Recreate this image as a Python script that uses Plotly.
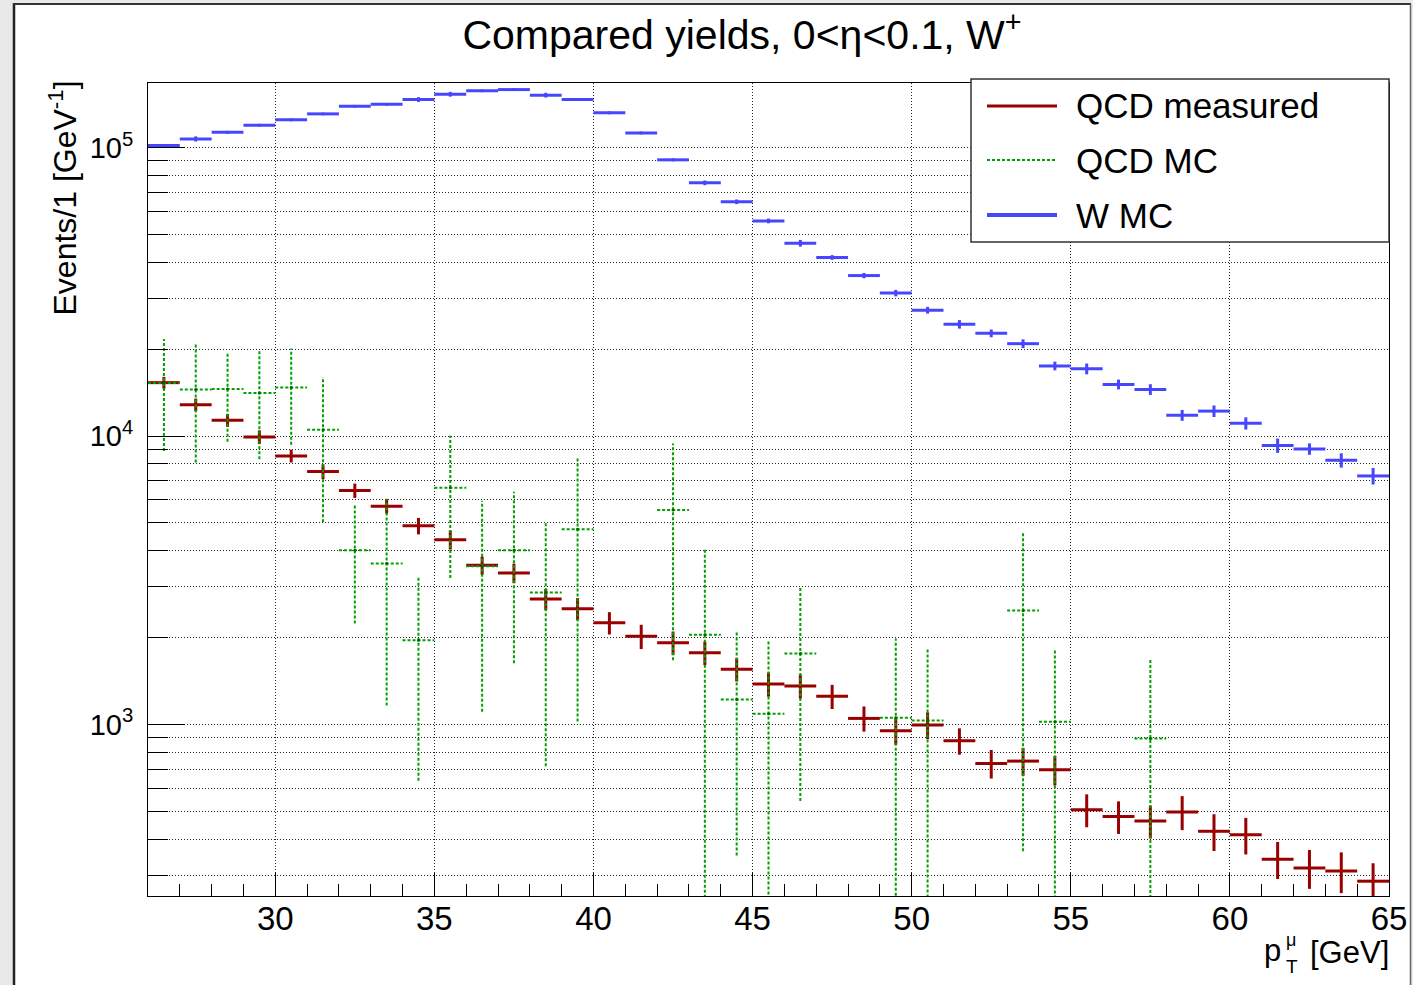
import plotly.graph_objects as go

# ---------------- data ----------------
bin_edges = [26, 27, 28, 29, 30, 31, 32, 33, 34, 35, 36, 37, 38, 39, 40,
             41, 42, 43, 44, 45, 46, 47, 48, 49, 50, 51, 52, 53, 54, 55,
             56, 57, 58, 59, 60, 61, 62, 63, 64, 65]

w_mc = [101700, 107200, 113000, 119600, 124800, 130900, 139100, 141300, 146800, 153100,
        157300, 158900, 152000, 146800, 132000, 112400, 90700, 75500, 64900, 55700,
        46600, 41600, 36000, 31300, 27300, 24400, 22700, 20900, 17500, 17100,
        15100, 14500, 11800, 12200, 11070, 9270, 9020, 8240, 7270]
w_mc_err = [1200, 2200, 1300, 1300, 1400, 1400, 1500, 1500, 2800, 2900,
            1700, 1700, 2900, 1600, 1500, 1300, 1100, 1400, 1200, 1050,
            1250, 780, 770, 810, 740, 830, 700, 730, 610, 740,
            590, 620, 510, 560, 540, 530, 410, 470, 480]

qcd_meas = [15310, 12840, 11330, 9920, 8530, 7530, 6470, 5710, 4880, 4370,
            3560, 3350, 2720, 2520, 2250, 2020, 1919, 1771, 1552, 1380,
            1359, 1251, 1049, 950, 995, 877, 732, 746, 696, 506,
            479, 462, 497, 426, 414, 341, 318, 310, 286]
qcd_meas_err = [720, 640, 580, 540, 435, 445, 370, 330, 320, 330,
                260, 260, 230, 220, 200, 195, 180, 165, 143, 132,
                130, 120, 105, 100, 106, 92, 83, 83, 82, 66,
                62, 60, 67, 62, 60, 50, 49, 50, 44]

qcd_mc = [15280, 14500, 14560, 14100, 14720, 10520, 4018, 3614, 1958, 6620,
          3537, 4018, 2866, 4754, None, None, 5540, 2045, 1221, 1088,
          1762, None, None, 1054, 1032, None, None, 2483, 1021, None,
          None, 894, None, None, None, None, None, None, None]
qcd_mc_err = [6400, 6400, 5000, 5800, 5400, 5500, 1780, 2450, 1320, 3400,
              2430, 2390, 2150, 3730, None, None, 3870, 2000, 870, 860,
              1220, None, None, 930, 800, None, None, 2120, 800, None,
              None, 790, None, None, None, None, None, None, None]

x_major_ticks = [30, 35, 40, 45, 50, 55, 60, 65]
x_minor_ticks = [27, 28, 29, 31, 32, 33, 34, 36, 37, 38, 39, 41, 42, 43, 44, 46, 47, 48, 49,
                 51, 52, 53, 54, 56, 57, 58, 59, 61, 62, 63, 64]
y_major_ticks = [1000, 10000, 100000]
y_major_text = ["10<sup>3</sup>", "10<sup>4</sup>", "10<sup>5</sup>"]
y_minor_ticks = [300, 400, 500, 600, 700, 800, 900,
                 2000, 3000, 4000, 5000, 6000, 7000, 8000, 9000,
                 20000, 30000, 40000, 50000, 60000, 70000, 80000, 90000]

series_names = ["QCD measured", "QCD MC", "W MC"]
c_red = "#990000"
c_green = "#00a000"
c_blue = "#4646ff"

# ---------------- geometry helpers ----------------
W, H = 1413, 985
L, R, T, B = 148, 1389, 83, 896


def fx(px):
    return (px - L) / (R - L)


def fy(py):
    return (B - py) / (B - T)


def cross_segments(edges, vals, errs, floor=1.0):
    xs, ys = [], []
    for i, (v, e) in enumerate(zip(vals, errs)):
        if v is None:
            continue
        lo, hi = edges[i], edges[i + 1]
        c = 0.5 * (lo + hi)
        xs += [lo, hi, None, c, c, None]
        ys += [v, v, None, max(v - e, floor), v + e, None]
    return xs, ys


fig = go.Figure()

xr, yr = cross_segments(bin_edges, qcd_meas, qcd_meas_err)
fig.add_trace(go.Scatter(x=xr, y=yr, mode="lines", name=series_names[0],
                         line=dict(color=c_red, width=3), showlegend=False,
                         hoverinfo="skip"))

xb, yb = cross_segments(bin_edges, w_mc, w_mc_err)
fig.add_trace(go.Scatter(x=xb, y=yb, mode="lines", name=series_names[2],
                         line=dict(color=c_blue, width=3), showlegend=False,
                         hoverinfo="skip"))

xg, yg = cross_segments(bin_edges, qcd_mc, qcd_mc_err)
fig.add_trace(go.Scatter(x=xg, y=yg, mode="lines", name=series_names[1],
                         line=dict(color=c_green, width=2, dash="3px,2px"),
                         showlegend=False, hoverinfo="skip"))
gx = [0.5 * (bin_edges[i] + bin_edges[i + 1]) for i, v in enumerate(qcd_mc) if v is not None]
gy = [v for v in qcd_mc if v is not None]
fig.add_trace(go.Scatter(x=gx, y=gy, mode="markers", showlegend=False,
                         marker=dict(color="#006600", size=3), hoverinfo="skip"))

# ---------------- canvas decorations ----------------
shapes = [
    dict(type="rect", xref="paper", yref="paper", x0=fx(-5), x1=fx(13), y0=fy(990), y1=fy(-5),
         fillcolor="#e9e9e9", line=dict(width=0), layer="below"),
    dict(type="rect", xref="paper", yref="paper", x0=fx(1411), x1=fx(1420), y0=fy(990), y1=fy(-5),
         fillcolor="#e9e9e9", line=dict(width=0), layer="below"),
    dict(type="rect", xref="paper", yref="paper", x0=fx(-5), x1=fx(1420), y0=fy(3), y1=fy(-5),
         fillcolor="#e9e9e9", line=dict(width=0), layer="below"),
    dict(type="line", xref="paper", yref="paper", x0=fx(14), x1=fx(14), y0=fy(990), y1=fy(3),
         line=dict(color="#222222", width=2.5)),
    dict(type="line", xref="paper", yref="paper", x0=fx(13), x1=fx(1411), y0=fy(4), y1=fy(4),
         line=dict(color="#333333", width=2)),
    dict(type="line", xref="paper", yref="paper", x0=fx(1410.5), x1=fx(1410.5), y0=fy(990), y1=fy(4),
         line=dict(color="#666666", width=1.5)),
    dict(type="rect", xref="paper", yref="paper", x0=fx(971), x1=fx(1389), y0=fy(242), y1=fy(79),
         fillcolor="white", line=dict(color="#333333", width=1.5), layer="above"),
]

font_fam = "Liberation Sans, Arial, sans-serif"
legend_rows = [106, 160, 215]
legend_styles = [dict(color=c_red, width=3),
                 dict(color=c_green, width=2, dash="3px,2px"),
                 dict(color=c_blue, width=4)]
annotations = []
for name, row, st in zip(series_names, legend_rows, legend_styles):
    shapes.append(dict(type="line", xref="paper", yref="paper", x0=fx(987), x1=fx(1057),
                       y0=fy(row), y1=fy(row), line=st, layer="above"))
    annotations.append(dict(text=name, xref="paper", yref="paper", x=fx(1074), y=fy(row),
                            xanchor="left", yanchor="middle", showarrow=False,
                            font=dict(family=font_fam, size=35, color="black")))

annotations += [
    dict(text="[GeV]", xref="paper", yref="paper", x=fx(1391), y=fy(952),
         xanchor="right", yanchor="middle", showarrow=False,
         font=dict(family=font_fam, size=31, color="black")),
    dict(text="p", xref="paper", yref="paper", x=fx(1283), y=fy(950),
         xanchor="right", yanchor="middle", showarrow=False,
         font=dict(family=font_fam, size=31, color="black")),
    dict(text="μ", xref="paper", yref="paper", x=fx(1284), y=fy(940),
         xanchor="left", yanchor="middle", showarrow=False,
         font=dict(family=font_fam, size=18, color="black")),
    dict(text="T", xref="paper", yref="paper", x=fx(1284), y=fy(967),
         xanchor="left", yanchor="middle", showarrow=False,
         font=dict(family=font_fam, size=19, color="black")),
    dict(text="Events/1 [GeV<sup>-1</sup>]", xref="paper", yref="paper", x=fx(62), y=fy(79),
         xanchor="center", yanchor="top", textangle=-90, showarrow=False,
         font=dict(family=font_fam, size=32, color="black")),
]

fig.update_layout(
    width=W, height=H,
    margin=dict(l=L, r=W - R, t=T, b=H - B, pad=0, autoexpand=False),
    paper_bgcolor="white", plot_bgcolor="white",
    showlegend=False,
    title=dict(text="Compared yields, 0<η<0.1, W<sup>+</sup>", x=fx(742), xref="paper",
               xanchor="center", y=1 - 35 / H, yref="container", yanchor="middle",
               font=dict(family=font_fam, size=41, color="black")),
    shapes=shapes,
    annotations=annotations,
    font=dict(family=font_fam, color="black"),
)

grid_dash = "1px,2px"
fig.update_xaxes(
    range=[26, 65], tickmode="array", tickvals=x_major_ticks, automargin=False,
    ticks="inside", ticklen=23, tickwidth=1, tickcolor="black",
    tickfont=dict(size=33, family=font_fam, color="black"),
    ticklabelstandoff=-7,
    showgrid=True, gridcolor="#222222", griddash=grid_dash, gridwidth=1,
    minor=dict(tickmode="array", tickvals=x_minor_ticks, ticks="inside", ticklen=12,
               tickcolor="black", tickwidth=1, showgrid=False),
    showline=True, linecolor="black", linewidth=1, mirror=True, zeroline=False,
)

fig.update_yaxes(
    type="log", range=[2.405, 5.224], tickmode="array", tickvals=y_major_ticks,
    ticktext=y_major_text, automargin=False,
    ticks="inside", ticklen=37, tickwidth=1, tickcolor="black",
    tickfont=dict(size=29, family=font_fam, color="black"),
    ticklabelstandoff=8,
    showgrid=True, gridcolor="#222222", griddash=grid_dash, gridwidth=1,
    minor=dict(tickmode="array", tickvals=y_minor_ticks, ticks="inside", ticklen=20,
               tickcolor="black", tickwidth=1, showgrid=True, gridcolor="#222222",
               griddash=grid_dash, gridwidth=1),
    showline=True, linecolor="black", linewidth=1, mirror=True, zeroline=False,
)

fig.write_html("out.html")
